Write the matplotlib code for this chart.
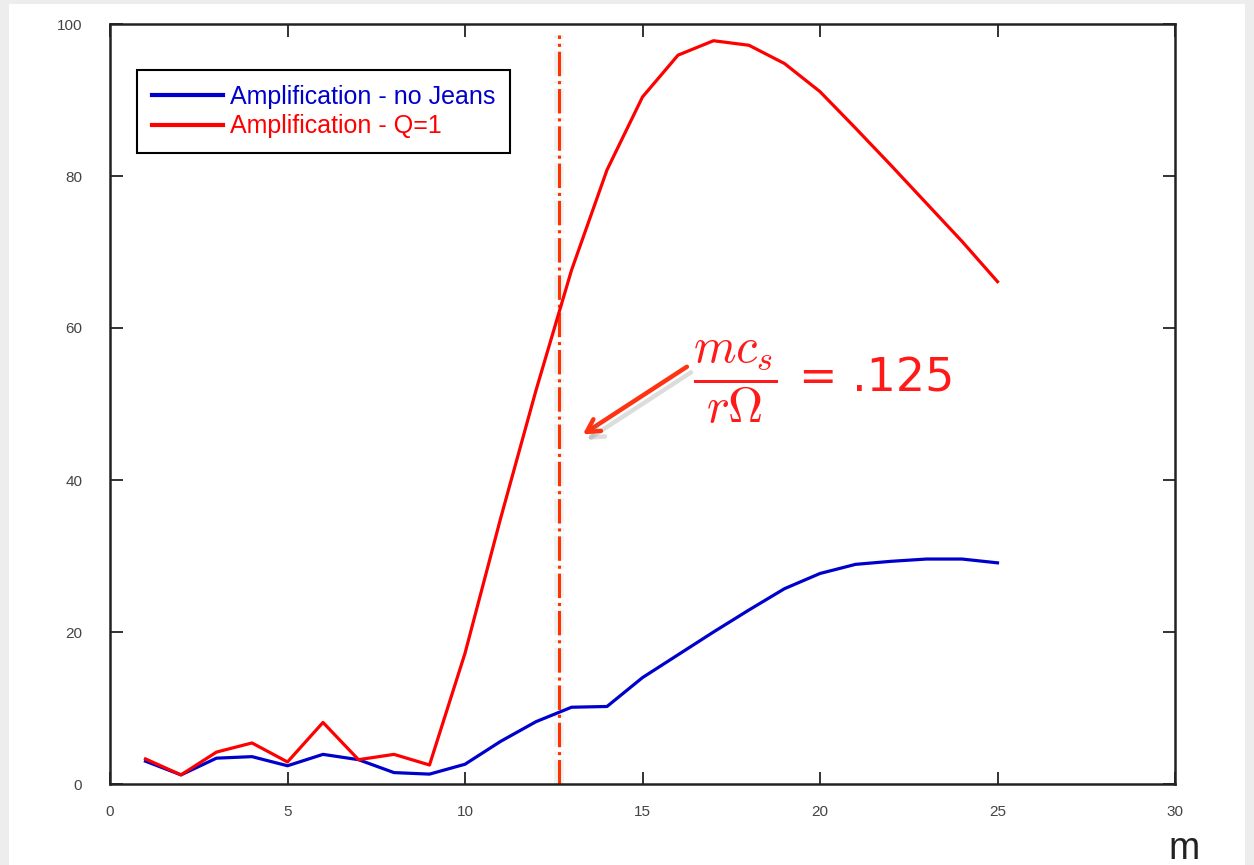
import matplotlib
matplotlib.use("Agg")
import matplotlib.pyplot as plt
import matplotlib.patheffects as pe
from matplotlib.patches import Rectangle

# Azimuthal mode number and amplification factors
m = list(range(1, 26))
amp_no_jeans = [3.0, 1.2, 3.4, 3.6, 2.4, 3.9, 3.2, 1.5, 1.3, 2.6,
                5.6, 8.2, 10.1, 10.2, 14.0, 17.0, 20.0, 22.9, 25.7, 27.7,
                28.9, 29.3, 29.6, 29.6, 29.1]
amp_q1 = [3.3, 1.2, 4.2, 5.4, 2.9, 8.1, 3.2, 3.9, 2.5, 17.2,
          34.9, 51.8, 67.6, 80.8, 90.4, 95.9, 97.8, 97.2, 94.8, 91.1,
          86.3, 81.4, 76.4, 71.4, 66.1]
labels = ["Amplification - no Jeans", "Amplification - Q=1"]
m_crit = 12.65
xticks = [0, 5, 10, 15, 20, 25, 30]
yticks = [0, 20, 40, 60, 80, 100]

plt.rcParams["font.family"] = ["Liberation Sans", "DejaVu Sans"]

fig = plt.figure(figsize=(12.54, 8.65), dpi=100, facecolor="#ededed")
fig.patches.append(Rectangle((9 / 1254, 0), (1245 - 9) / 1254, 861 / 865,
                             transform=fig.transFigure, facecolor="white",
                             edgecolor="none", zorder=-10))

ax = fig.add_axes([110 / 1254, 1 - 784 / 865, 1065 / 1254, 760 / 865])
ax.set_facecolor("white")

blue = "#0000cc"
red = "#ff0000"
ax.plot(m, amp_no_jeans, color=blue, lw=2.3, label=labels[0], zorder=3)
ax.plot(m, amp_q1, color=red, lw=2.3, label=labels[1], zorder=3)

# critical mode marker
vl = ax.axvline(m_crit, ymin=0, ymax=0.985, color="#ff3300", lw=2.2,
                dashes=(8, 1.6, 1, 1.6), zorder=2)
vl.set_path_effects([pe.Stroke(linewidth=7, foreground="#bbbbbb", alpha=0.2),
                     pe.Normal()])

ax.set_xlim(0, 30)
ax.set_ylim(0, 100)
ax.set_xticks(xticks)
ax.set_yticks(yticks)
ax.tick_params(axis="both", direction="in", length=9, width=1.3,
               color="#222222", labelsize=11, labelcolor="#444444",
               top=True, right=True)
ax.tick_params(axis="x", pad=15)
ax.tick_params(axis="y", pad=20)
for s in ax.spines.values():
    s.set_linewidth(1.8)
    s.set_color("#222222")

ax.set_xlabel("m", fontsize=27, color="#222222", va="center")
ax.xaxis.set_label_coords(1.009, -0.085)

leg = ax.legend(loc="upper left", bbox_to_anchor=(0.0254, 0.939),
                borderaxespad=0, fancybox=False, framealpha=1,
                edgecolor="black", fontsize=18, handlelength=2.85,
                handletextpad=0.3, labelspacing=0.22, borderpad=0.58,
                labelcolor="linecolor")
leg.get_frame().set_linewidth(1.5)
for line in leg.get_lines():
    line.set_linewidth(3)

# annotation arrow pointing at the marker
arr = ax.annotate("", xy=(13.32, 46.0), xytext=(16.25, 54.9),
                  arrowprops=dict(arrowstyle="->,head_length=0.9,head_width=0.5",
                                  color="#ff3311", lw=3.2, shrinkA=0, shrinkB=0),
                  zorder=4)
arr.arrow_patch.set_path_effects([pe.SimpleLineShadow(offset=(3, -4),
                                                      shadow_color="#777777",
                                                      alpha=0.25),
                                  pe.Normal()])

ax.text(17.62, 52.8, r"$\dfrac{mc_s}{r\Omega}$", fontsize=35,
        math_fontfamily="cm", color="#ff1a1a", ha="center", va="center")
ax.text(19.4, 51.6, "= .125", fontsize=33, family="DejaVu Sans",
        color="#ff1a1a", ha="left", va="baseline")

fig.savefig("out.png", dpi=100, facecolor=fig.get_facecolor())
